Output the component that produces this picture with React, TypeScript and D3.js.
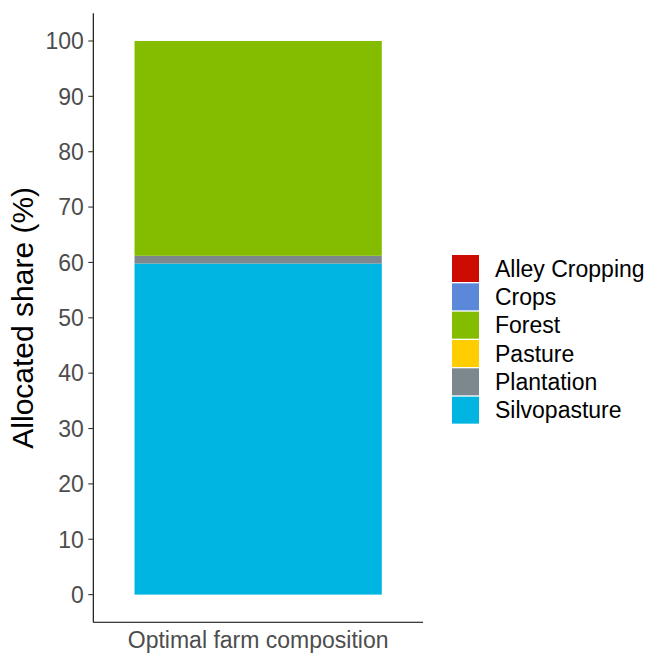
import React from "react";
import * as d3 from "d3";

const categories = ["Optimal farm composition"];
const landUses = ["Alley Cropping", "Crops", "Forest", "Pasture", "Plantation", "Silvopasture"];
const shares = [0, 0, 38.8, 0, 1.4, 59.8];
const colors = ["#CC0C00", "#5C88DA", "#84BD00", "#FFCD00", "#7C878E", "#00B5E2"];
const yTicks = [0, 10, 20, 30, 40, 50, 60, 70, 80, 90, 100];

const W = 646;
const H = 653;
const FONT = "'Liberation Sans', Arial, Helvetica, sans-serif";

export default function App() {
  const panel = { left: 93.3, right: 423, top: 13.3, bottom: 622.3 };
  const y = d3.scaleLinear().domain([-5, 105]).range([panel.bottom, panel.top]);
  const x = d3
    .scaleBand<string>()
    .domain(categories)
    .range([panel.left, panel.right])
    .paddingInner(0)
    .paddingOuter(0);
  // ggplot: discrete expansion 0.6 each side, bar width 0.9
  const unit = (panel.right - panel.left) / 1.2;
  const barW = unit * 0.9;
  const cx = (x(categories[0]) as number) + x.bandwidth() / 2;

  // stack: last level at bottom
  const row: Record<string, number> = {};
  landUses.forEach((k, i) => (row[k] = shares[i]));
  const stack = d3.stack<Record<string, number>>().keys([...landUses].reverse());
  const series = stack([row]);

  const keyTop = 255;
  const keyStep = 28.33;
  const keySize = 27;

  return (
    <svg
      width={W}
      height={H}
      style={{ position: "absolute", left: 0, top: 0, background: "#fff", fontFamily: FONT }}
    >
      <rect x={0} y={0} width={W} height={H} fill="#fff" />
      {series.map((s) => {
        const i = landUses.indexOf(s.key);
        const d = s[0];
        const h = y(d[0]) - y(d[1]);
        if (h <= 0) return null;
        return (
          <rect
            key={s.key}
            x={cx - barW / 2}
            width={barW}
            y={y(d[1])}
            height={h}
            fill={colors[i]}
          />
        );
      })}
      {/* axes */}
      <line x1={panel.left} x2={panel.left} y1={panel.top} y2={panel.bottom} stroke="#000" strokeWidth={1.1} />
      <line x1={panel.left} x2={panel.right} y1={panel.bottom} y2={panel.bottom} stroke="#000" strokeWidth={1.1} />
      {yTicks.map((t) => (
        <g key={t}>
          <line x1={panel.left - 5} x2={panel.left} y1={y(t)} y2={y(t)} stroke="#333" strokeWidth={1.1} />
          <text
            x={panel.left - 9.5}
            y={y(t)}
            dy="0.36em"
            textAnchor="end"
            fontSize={23}
            fill="#4D4D4D"
          >
            {t}
          </text>
        </g>
      ))}
      {categories.map((c) => (
        <text key={c} x={cx} y={648} textAnchor="middle" fontSize={23} fill="#4D4D4D">
          {c}
        </text>
      ))}
      <text
        transform={`translate(33,${(panel.top + panel.bottom) / 2}) rotate(-90)`}
        textAnchor="middle"
        fontSize={30}
        fill="#000"
      >
        Allocated share (%)
      </text>
      {landUses.map((k, i) => (
        <g key={k}>
          <rect x={452} y={keyTop + i * keyStep} width={keySize} height={keySize} fill={colors[i]} />
          <text
            x={495}
            y={keyTop + i * keyStep + keySize / 2}
            dy="0.36em"
            fontSize={23}
            fill="#000"
          >
            {k}
          </text>
        </g>
      ))}
    </svg>
  );
}
